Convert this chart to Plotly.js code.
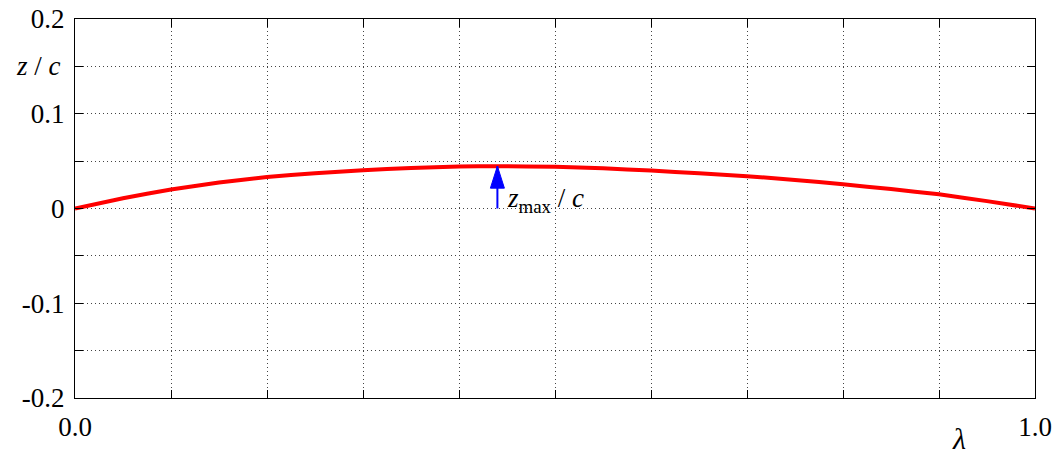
<!DOCTYPE html>
<html>
<head>
<meta charset="utf-8">
<script src="https://cdn.plot.ly/plotly-3.0.1.min.js"></script>
<style>
  html, body { margin: 0; padding: 0; background: #fff; }
  #chart { width: 1057px; height: 454px; }
</style>
</head>
<body>
<div id="chart"></div>
<script>
// Camber line z/c along the chord, lambda = x/c
const lambda = [0, 0.05, 0.1, 0.15, 0.2, 0.25, 0.3, 0.35, 0.4, 0.44, 0.5, 0.55, 0.6, 0.65, 0.7, 0.75, 0.8, 0.85, 0.9, 0.95, 1.0];
const zOverC = [0, 0.0108, 0.0200, 0.0274, 0.0332, 0.0372, 0.0403, 0.0428, 0.0443, 0.0447, 0.0440, 0.0424, 0.0400, 0.0372, 0.0341, 0.0301, 0.0256, 0.0205, 0.0150, 0.0078, 0];

// Position of the maximum camber
const zMaxLambda = 0.44;
const zMax = 0.0447;

// Axis ticks
const xTickVals = [0, 0.1, 0.2, 0.3, 0.4, 0.5, 0.6, 0.7, 0.8, 0.9, 1.0];
const xTickText = ['0.0', ' ', ' ', ' ', ' ', ' ', ' ', ' ', ' ', ' ', '1.0'];
const yTickVals = [-0.2, -0.15, -0.1, -0.05, 0, 0.05, 0.1, 0.15, 0.2];
const yTickText = ['-0.2', ' ', '-0.1', ' ', '0', ' ', '0.1', ' ', '0.2'];

const FONT = 'Times New Roman, Liberation Serif, DejaVu Serif, serif';
const FS = 27;

const traces = [{
  x: lambda,
  y: zOverC,
  type: 'scatter',
  mode: 'lines',
  line: { color: '#ff0000', width: 4, shape: 'spline', smoothing: 0.4 },
  hoverinfo: 'skip'
}];

const axisCommon = {
  showline: true,
  linecolor: '#000',
  linewidth: 1,
  mirror: 'ticks',
  ticks: 'inside',
  ticklen: 8,
  tickcolor: '#000',
  tickwidth: 1,
  showgrid: true,
  gridcolor: '#444',
  gridwidth: 1,
  griddash: '1px,3px',
  zeroline: false,
  tickfont: { family: FONT, size: FS, color: '#000' },
  fixedrange: true
};

const layout = {
  width: 1057,
  height: 454,
  margin: { l: 75, r: 22, t: 19, b: 56 },
  paper_bgcolor: '#fff',
  plot_bgcolor: '#fff',
  showlegend: false,
  font: { family: FONT, size: FS, color: '#000' },
  xaxis: Object.assign({}, axisCommon, {
    range: [0, 1],
    tickmode: 'array',
    tickvals: xTickVals,
    ticktext: xTickText,
    ticklabelstandoff: 5
  }),
  yaxis: Object.assign({}, axisCommon, {
    range: [-0.2, 0.2],
    tickmode: 'array',
    tickvals: yTickVals,
    ticktext: yTickText,
    ticklabelstandoff: 4
  }),
  shapes: [
    // arrow shaft from the chord up to the maximum camber
    {
      type: 'line', xref: 'x', yref: 'y',
      x0: zMaxLambda, x1: zMaxLambda, y0: 0, y1: zMax,
      line: { color: '#0000ff', width: 2 }
    },
    // arrow head anchored at the maximum camber point
    {
      type: 'path', xref: 'x', yref: 'y',
      xsizemode: 'pixel', ysizemode: 'pixel',
      xanchor: zMaxLambda, yanchor: zMax,
      path: 'M0,0 L-7,-22 L7,-22 Z',
      fillcolor: '#0000ff',
      line: { color: '#0000ff', width: 1 }
    }
  ],
  annotations: [
    {
      text: '<i>z</i><sub>max</sub> / <i>c</i>',
      xref: 'x', yref: 'y',
      x: zMaxLambda, y: 0,
      xanchor: 'left', yanchor: 'middle',
      xshift: 8, yshift: 9,
      showarrow: false,
      font: { family: FONT, size: FS, color: '#000' }
    },
    {
      text: '<i>z</i> / <i>c</i>',
      xref: 'paper', yref: 'y',
      x: 0, y: 0.15,
      xanchor: 'right', yanchor: 'middle',
      xshift: -12,
      showarrow: false,
      font: { family: FONT, size: FS, color: '#000' }
    },
    {
      text: '<i>λ</i>',
      xref: 'x', yref: 'paper',
      x: 0.921, y: 0,
      xanchor: 'center', yanchor: 'top',
      yshift: -22,
      showarrow: false,
      font: { family: FONT, size: 30, color: '#000' }
    }
  ]
};

Plotly.newPlot('chart', traces, layout, { displayModeBar: false, staticPlot: true });
</script>
</body>
</html>
